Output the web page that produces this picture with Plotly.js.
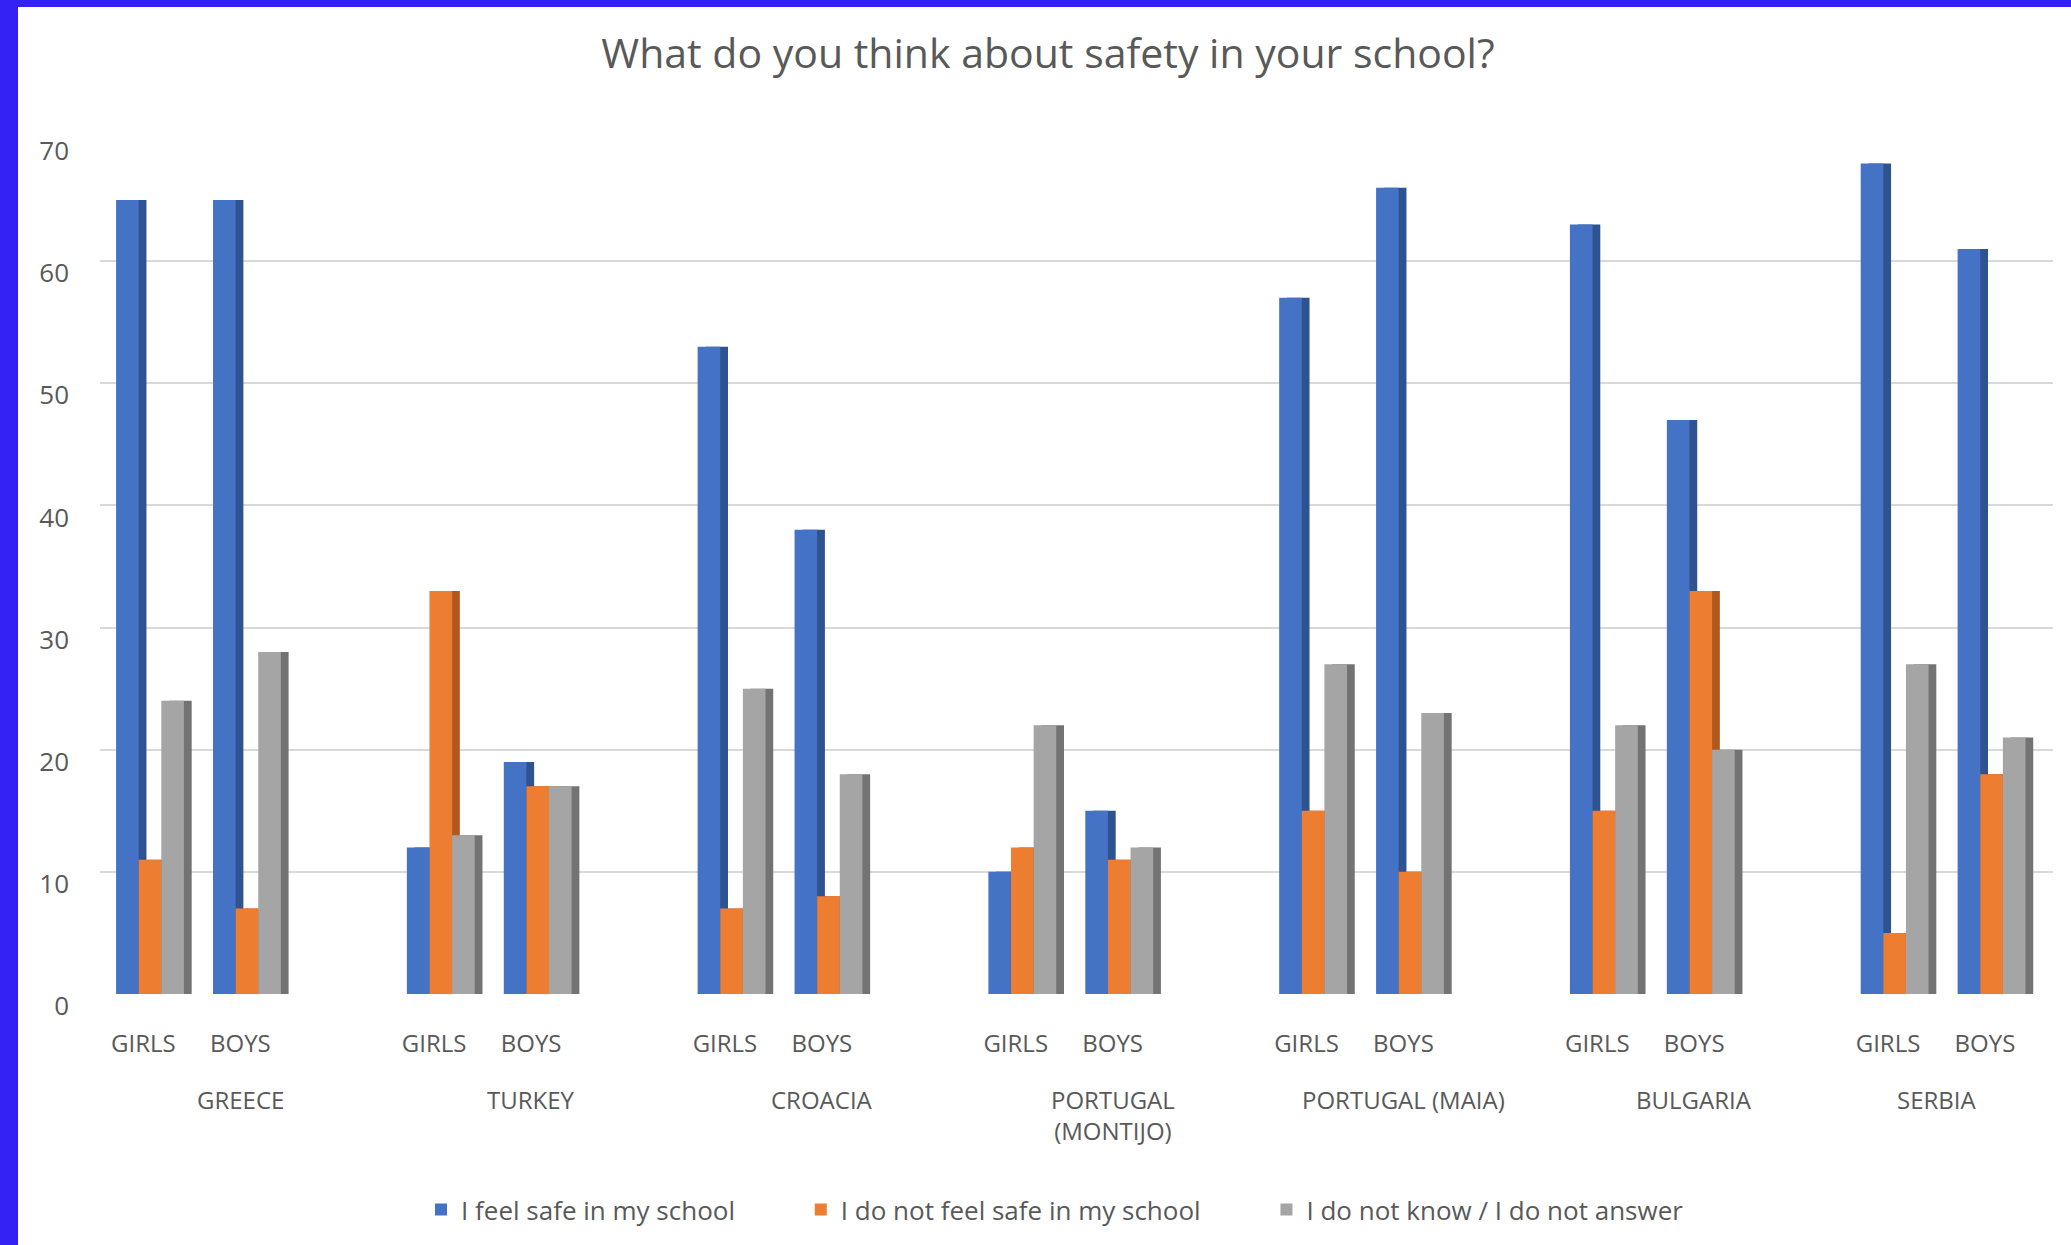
<!DOCTYPE html>
<html>
<head>
<meta charset="utf-8">
<script src="https://cdn.plot.ly/plotly-3.0.1.min.js"></script>
<style>
  html, body { margin: 0; padding: 0; background: #ffffff; }
  #frame { position: relative; width: 2071px; height: 1245px; background: #3421F4; overflow: hidden; }
  #chart { position: absolute; left: 18px; top: 7px; width: 2053px; height: 1238px; background: #ffffff; }
</style>
</head>
<body>
<div id="frame"><div id="chart"></div></div>
<script>
// ---- data ----
const countries = ["GREECE", "TURKEY", "CROACIA", "PORTUGAL<br>(MONTIJO)", "PORTUGAL (MAIA)", "BULGARIA", "SERBIA"];
const genders = ["GIRLS", "BOYS"];
const seriesNames = ["I feel safe in my school", "I do not feel safe in my school", "I do not know / I do not answer"];
// order: per country GIRLS, BOYS
const feelSafe    = [65, 65, 12, 19, 53, 38, 10, 15, 57, 66, 63, 47, 68, 61];
const notSafe     = [11, 7, 33, 17, 7, 8, 12, 11, 15, 10, 15, 33, 5, 18];
const dontKnow    = [24, 28, 13, 17, 25, 18, 22, 12, 27, 23, 22, 20, 27, 21];
const colors     = ["#4472C4", "#ED7D31", "#A5A5A5"];
const sideColors = ["#2F5290", "#B0591F", "#737373"];
const yTicks = [0, 10, 20, 30, 40, 50, 60, 70];

// ---- build category slot positions (each country: GIRLS, BOYS, then an empty slot) ----
const slotsPerCountry = genders.length + 1;
const labelOffset = -0.068; // labels sit slightly left of the (3D) bar groups
const xPos = [], tickText = [];
countries.forEach((c, i) => {
  genders.forEach((g, j) => {
    xPos.push(i * slotsPerCountry + j);
    tickText.push(g);
  });
});
const tickPos = xPos.map(v => v + labelOffset);

const textColor = "#595959";
const font = "Open Sans, Lato, sans-serif";
const pad = "\u00a0".repeat(9);

const seriesValues = [feelSafe, notSafe, dontKnow];
const groupWidth = 0.7;
const barW = groupWidth / seriesValues.length;
const depth = 0.08; // simulated 3D side face

// side faces (drawn first, partly hidden by the neighbouring front faces)
const sideTraces = seriesValues.map((vals, k) => ({
  type: "bar",
  name: seriesNames[k],
  x: xPos,
  y: vals,
  width: barW,
  offset: -groupWidth / 2 + k * barW + depth,
  marker: { color: sideColors[k] },
  showlegend: false,
  hoverinfo: "skip"
}));
// front faces
const frontTraces = seriesValues.map((vals, k) => ({
  type: "bar",
  name: seriesNames[k] + (k < seriesValues.length - 1 ? pad : ""),
  x: xPos,
  y: vals,
  width: barW,
  offset: -groupWidth / 2 + k * barW,
  marker: { color: colors[k] },
  hoverinfo: "y+name"
}));

// country labels under the gender labels
const annotations = countries.map((c, i) => {
  const start = i * slotsPerCountry;
  const isLast = i === countries.length - 1;
  const end = isLast ? start + genders.length - 1 : start + genders.length;
  return {
    x: (start + end) / 2 + labelOffset,
    y: 0,
    xref: "x",
    yref: "paper",
    yanchor: "top",
    xanchor: "center",
    yshift: -87,
    text: c,
    showarrow: false,
    align: "center",
    font: { family: font, size: 24, color: textColor }
  };
});

const layout = {
  width: 2053,
  height: 1238,
  paper_bgcolor: "#ffffff",
  plot_bgcolor: "#ffffff",
  margin: { l: 82, r: 18, t: 132, b: 251 },
  title: {
    text: "What do you think about safety in your school?",
    x: 0.5017,
    xanchor: "center",
    y: 0.962,
    yanchor: "middle",
    font: { family: font, size: 41, color: textColor }
  },
  barmode: "overlay",
  xaxis: {
    range: [-0.516, 19.634],
    tickmode: "array",
    tickvals: tickPos,
    ticktext: tickText,
    showgrid: false,
    zeroline: false,
    showline: false,
    ticks: "",
    ticklabelstandoff: 33,
    tickfont: { family: font, size: 24, color: textColor }
  },
  yaxis: {
    range: [0, 70],
    tickmode: "array",
    tickvals: yTicks,
    showgrid: true,
    gridcolor: "#D9D9D9",
    gridwidth: 2,
    zeroline: false,
    showline: false,
    ticks: "",
    ticklabelstandoff: 30,
    ticklabelshift: 12,
    tickfont: { family: font, size: 26, color: textColor }
  },
  legend: {
    orientation: "h",
    x: 0.489,
    xanchor: "center",
    y: -0.2523,
    yanchor: "middle",
    font: { family: font, size: 26, color: textColor },
    itemclick: false
  },
  annotations: annotations,
  showlegend: true
};

Plotly.newPlot("chart", sideTraces.concat(frontTraces), layout, { displayModeBar: false, staticPlot: true });
</script>
</body>
</html>
